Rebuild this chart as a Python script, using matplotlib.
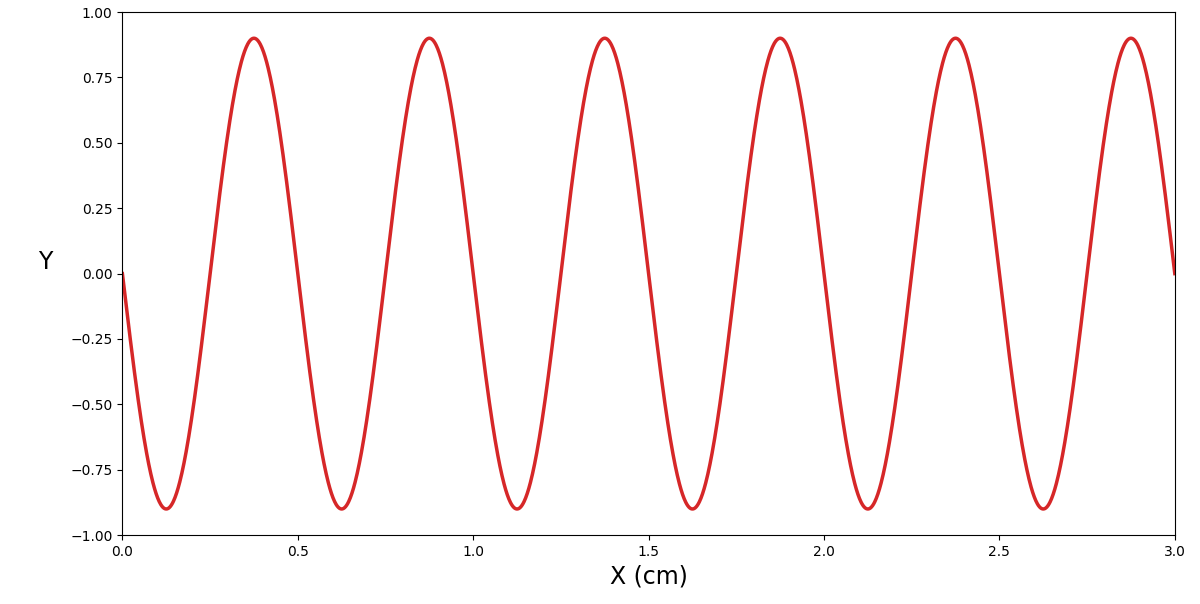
import numpy as np
import matplotlib
matplotlib.use("Agg")
import matplotlib.pyplot as plt

# Wave parameters
amplitude = 0.9          # peak height
wavelength = 0.5         # cm between peaks
x_start, x_end = 0.0, 3.0
sign = -1                # starts going down

x = np.linspace(x_start, x_end, 2000)
y = sign * amplitude * np.sin(2 * np.pi * x / wavelength)

fig = plt.figure(figsize=(12, 6.04), dpi=100)
ax = fig.add_axes([0.102, 0.114, 0.877, 0.866])
ax.plot(x, y, color="#d62728", lw=2.5)
ax.set_xlim(x_start, x_end)
ax.set_ylim(-1.0, 1.0)
ax.set_xlabel("X (cm)", fontsize=17)
ax.set_ylabel("Y", fontsize=17, rotation=0, labelpad=18)
ax.tick_params(labelsize=10)
fig.savefig("out.png", dpi=100)
